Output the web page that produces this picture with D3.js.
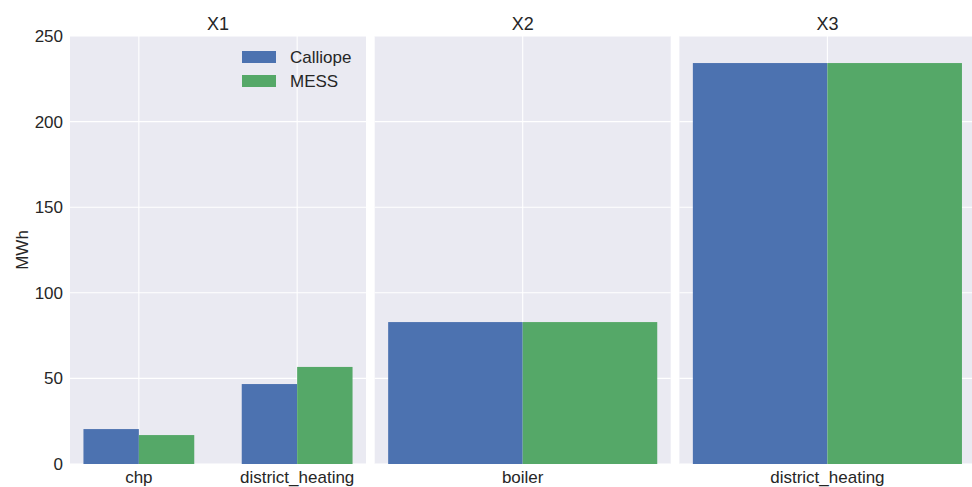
<!DOCTYPE html>
<html>
<head>
<meta charset="utf-8">
<script src="https://cdn.jsdelivr.net/npm/d3@7"></script>
<style>
  html, body { margin: 0; padding: 0; background: #fff; }
  svg { display: block; font-family: "Liberation Sans", Arial, sans-serif; }
</style>
</head>
<body>
<svg id="chart" width="972" height="487"></svg>
<script>
// ---- data ----
const panels = ["X1", "X2", "X3"];
const categoriesX1 = ["chp", "district_heating"];
const categoriesX2 = ["boiler"];
const categoriesX3 = ["district_heating"];
const seriesNames = ["Calliope", "MESS"];
const calliopeX1 = [20.4, 46.7];
const messX1 = [16.9, 56.7];
const calliopeX2 = [82.9];
const messX2 = [82.9];
const calliopeX3 = [234.2];
const messX3 = [234.2];
const yTicks = [0, 50, 100, 150, 200, 250];
const yLabel = "MWh";

const panelData = [
  { title: panels[0], cats: categoriesX1, vals: [calliopeX1, messX1] },
  { title: panels[1], cats: categoriesX2, vals: [calliopeX2, messX2] },
  { title: panels[2], cats: categoriesX3, vals: [calliopeX3, messX3] }
];

// ---- layout ----
const colors = ["#4C72B0", "#55A868"];
const bg = "#EAEAF2";
const textColor = "#262626";
const fontSize = 17;
const plotTop = 36, plotBottom = 464;
const panelW = 296, panelGap = 8.7, left0 = 70;

const svg = d3.select("#chart");
const y = d3.scaleLinear().domain([0, 250]).range([plotBottom, plotTop]);

panelData.forEach((p, i) => {
  const x0 = left0 + i * (panelW + panelGap);
  const x1 = x0 + panelW;
  const n = p.cats.length;
  const padInner = n > 1 ? 0.3 : 0;
  const padOuter = 0.05 * (n - padInner);
  const x = d3.scaleBand().domain(p.cats.map((c, k) => k))
    .range([x0, x1]).paddingInner(padInner).paddingOuter(padOuter);
  const xs = d3.scaleBand().domain(seriesNames).range([0, x.bandwidth()]);

  const g = svg.append("g");
  g.append("rect").attr("x", x0).attr("y", plotTop)
    .attr("width", panelW).attr("height", plotBottom - plotTop).attr("fill", bg);

  // horizontal gridlines
  g.selectAll(".hg").data(yTicks).enter().append("line")
    .attr("x1", x0).attr("x2", x1)
    .attr("y1", d => y(d)).attr("y2", d => y(d))
    .attr("stroke", "#fff").attr("stroke-width", 1.1);
  // vertical gridlines at category centers
  g.selectAll(".vg").data(p.cats.map((c, k) => k)).enter().append("line")
    .attr("x1", d => x(d) + x.bandwidth() / 2).attr("x2", d => x(d) + x.bandwidth() / 2)
    .attr("y1", plotTop).attr("y2", plotBottom)
    .attr("stroke", "#fff").attr("stroke-width", 1.1);

  // bars
  seriesNames.forEach((s, si) => {
    g.selectAll(".bar" + si).data(p.vals[si]).enter().append("rect")
      .attr("x", (d, k) => x(k) + xs(s))
      .attr("width", xs.bandwidth())
      .attr("y", d => y(d))
      .attr("height", d => y(0) - y(d))
      .attr("fill", colors[si]);
  });

  // x tick labels
  g.selectAll(".xt").data(p.cats).enter().append("text")
    .attr("x", (d, k) => x(k) + x.bandwidth() / 2)
    .attr("y", 483)
    .attr("text-anchor", "middle")
    .attr("font-size", fontSize).attr("fill", textColor)
    .text(d => d);

  // title
  g.append("text").attr("x", (x0 + x1) / 2).attr("y", 30)
    .attr("text-anchor", "middle").attr("font-size", fontSize + 1)
    .attr("fill", textColor).text(p.title);

  if (i === 0) {
    // y ticks
    g.selectAll(".yt").data(yTicks).enter().append("text")
      .attr("x", 63).attr("y", d => y(d))
      .attr("dy", "0.35em").attr("text-anchor", "end")
      .attr("font-size", fontSize).attr("fill", textColor)
      .text(d => d);
    // y label
    g.append("text")
      .attr("transform", `translate(28,${(plotTop + plotBottom) / 2}) rotate(-90)`)
      .attr("text-anchor", "middle").attr("font-size", fontSize)
      .attr("fill", textColor).text(yLabel);
    // legend
    const lg = g.append("g");
    seriesNames.forEach((s, si) => {
      const ly = 57 + si * 24;
      lg.append("rect").attr("x", 242).attr("y", ly - 6)
        .attr("width", 34).attr("height", 12).attr("fill", colors[si]);
      lg.append("text").attr("x", 290).attr("y", ly).attr("dy", "0.35em")
        .attr("font-size", fontSize).attr("fill", textColor).text(s);
    });
  }
});
</script>
</body>
</html>
